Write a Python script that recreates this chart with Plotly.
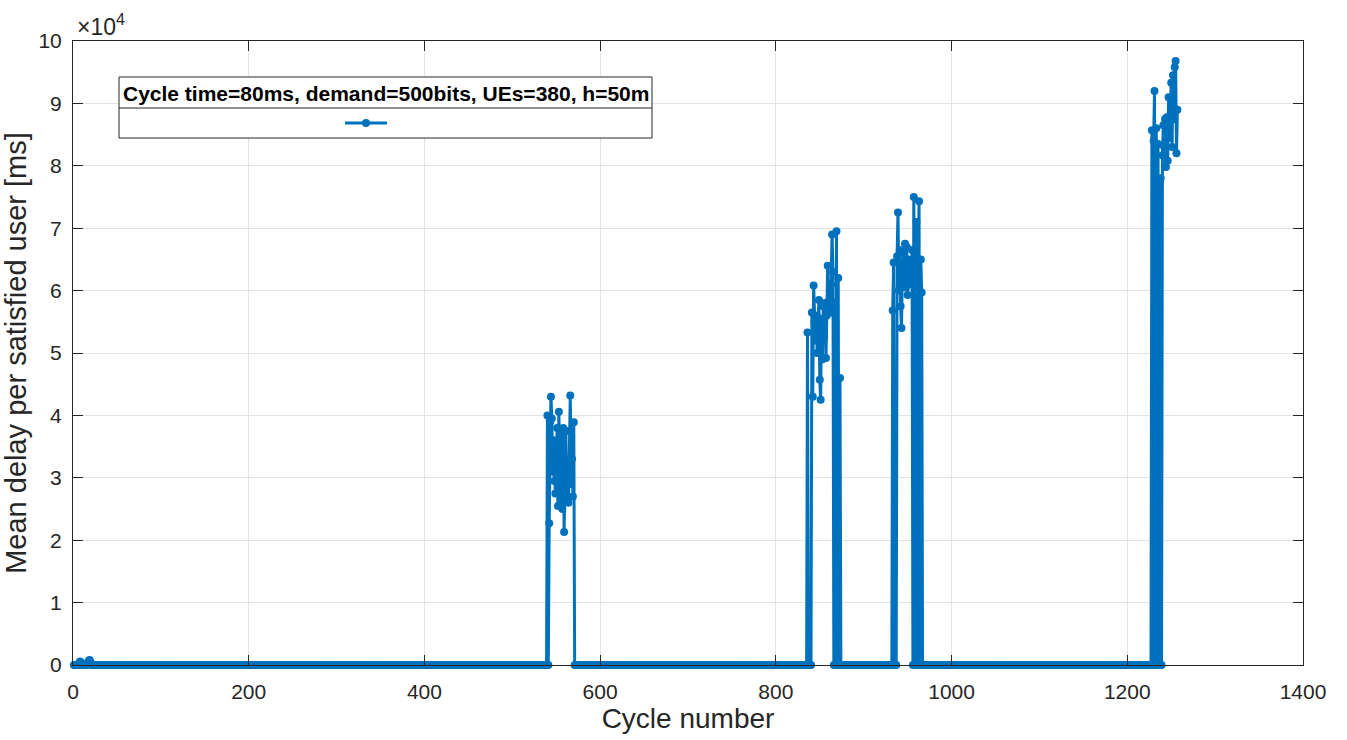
import plotly.graph_objects as go

# ---------------- data ----------------
last_cycle = 1257

# cycles 1..25 (small values at the start)
early_start = 1
early_vals = [0, 0, 0, 0, 0, 0, 300, 550, 400, 0, 0, 0, 0, 0, 0, 0,
              450, 700, 800, 500, 0, 0, 0, 0, 0]

burst1_start = 540
burst1_vals = [40000, 0, 22700, 39000, 43000, 39500, 31000, 36000, 29500,
               27500, 30500, 38000, 25500, 40600, 32500, 26500, 37800,
               25000, 38000, 21300, 31500, 37500, 27000, 32000, 26000,
               37500, 43200, 29000, 33000, 27000, 38900, 0]

burst2_start = 836
burst2_vals = [53300, 0, 0, 0, 0, 56500, 43000, 60800, 55000, 52000, 56000,
               50000, 54500, 58500, 45700, 42500, 55500, 49000, 57500,
               52500, 58000, 49200, 56000, 64000, 57000, 58500, 56500,
               61000, 69000, 63000, 0, 58000, 0, 69500, 0, 62000, 0,
               46000, 0]

burst3_start = 933
burst3_vals = [56800, 64500, 0, 0, 0, 65500, 72500, 60000, 66500, 57500,
               54000, 63000, 66000, 61500, 67500, 60500, 67000, 59300,
               65000, 62000, 64000, 61000, 66500, 0, 75000, 54800, 0,
               71000, 0, 63000, 74300, 0, 65000, 59700, 0]

burst4_start = 1228
burst4_vals = [85700, 0, 84000, 92000, 0, 86000, 0, 83500, 0, 0, 78000, 0,
               81700, 86500, 83000, 87500, 79800, 87800, 80800, 91000,
               84500, 88000, 93300, 83000, 94500, 87500, 95800, 96800,
               82000, 89000]

x_ticks = [0, 200, 400, 600, 800, 1000, 1200, 1400]
y_ticks = [0, 10000, 20000, 30000, 40000, 50000, 60000, 70000, 80000,
           90000, 100000]
y_tick_text = ["0", "1", "2", "3", "4", "5", "6", "7", "8", "9", "10"]

legend_title = "Cycle time=80ms, demand=500bits, UEs=380, h=50m"

# ---------------- assemble the series ----------------
cycles = list(range(1, last_cycle + 1))
delay = [0] * last_cycle
for start, vals in [(early_start, early_vals), (burst1_start, burst1_vals),
                    (burst2_start, burst2_vals), (burst3_start, burst3_vals),
                    (burst4_start, burst4_vals)]:
    for i, v in enumerate(vals):
        idx = start - 1 + i
        if idx < last_cycle:
            delay[idx] = v

BLUE = "#0072BD"
AX = "#262626"
FONT = "Liberation Sans, Arial, Helvetica, sans-serif"

fig = go.Figure()
fig.add_trace(go.Scatter(
    x=cycles, y=delay, mode="lines+markers",
    line=dict(color=BLUE, width=3),
    marker=dict(color=BLUE, size=8),
    cliponaxis=False, showlegend=False, name=legend_title,
))

# plot area in pixels: left 73, right 1303, top 41, bottom 665
L, R, T, B = 73, 1303, 41, 665
W, H = R - L, B - T

def px(xp):
    return (xp - L) / W

def py(yp):
    return (B - yp) / H

shapes = [
    # legend box
    dict(type="rect", xref="paper", yref="paper",
         x0=px(119), x1=px(652), y0=py(138), y1=py(77),
         line=dict(color=AX, width=1), fillcolor="white", layer="above"),
    dict(type="line", xref="paper", yref="paper",
         x0=px(119), x1=px(652), y0=py(108), y1=py(108),
         line=dict(color=AX, width=1), layer="above"),
    dict(type="line", xref="paper", yref="paper",
         x0=px(345), x1=px(387), y0=py(123), y1=py(123),
         line=dict(color=BLUE, width=3), layer="above"),
    dict(type="circle", xref="paper", yref="paper",
         xsizemode="pixel", ysizemode="pixel",
         xanchor=px(366), yanchor=py(123),
         x0=-4, x1=4, y0=-4, y1=4,
         line=dict(color=BLUE, width=0), fillcolor=BLUE, layer="above"),
]

annotations = [
    dict(text="<b>" + legend_title + "</b>", xref="paper", yref="paper",
         x=px(385.5), y=py(93), xanchor="center", yanchor="middle",
         showarrow=False, font=dict(family=FONT, size=21, color="black")),
    dict(text="×10<sup>4</sup>", xref="paper", yref="paper",
         x=px(75), y=1, xanchor="left", yanchor="bottom", yshift=-1,
         showarrow=False, font=dict(family=FONT, size=23, color=AX)),
]

axis_common = dict(
    showgrid=True, gridcolor="#e3e3e3", gridwidth=1,
    zeroline=False, showline=True, linecolor=AX, linewidth=1,
    mirror="ticks", ticks="inside", ticklen=10, tickcolor=AX,
    tickfont=dict(family=FONT, size=21, color=AX),
    automargin=False,
)

fig.update_layout(
    width=1347, height=740,
    margin=dict(l=L, r=1347 - R, t=T, b=740 - B),
    paper_bgcolor="white", plot_bgcolor="white",
    font=dict(family=FONT, color=AX),
    xaxis=dict(range=[0, 1400], tickvals=x_ticks,
               title=dict(text="Cycle number",
                          font=dict(family=FONT, size=28, color=AX),
                          standoff=6),
               ticklabelstandoff=8,
               **axis_common),
    yaxis=dict(range=[0, 100000], tickvals=y_ticks, ticktext=y_tick_text,
               title=dict(text="Mean delay per satisfied user [ms]",
                          font=dict(family=FONT, size=29, color=AX),
                          standoff=6),
               ticklabelstandoff=6,
               **axis_common),
    shapes=shapes, annotations=annotations, showlegend=False,
)

fig.write_html("out.html")
